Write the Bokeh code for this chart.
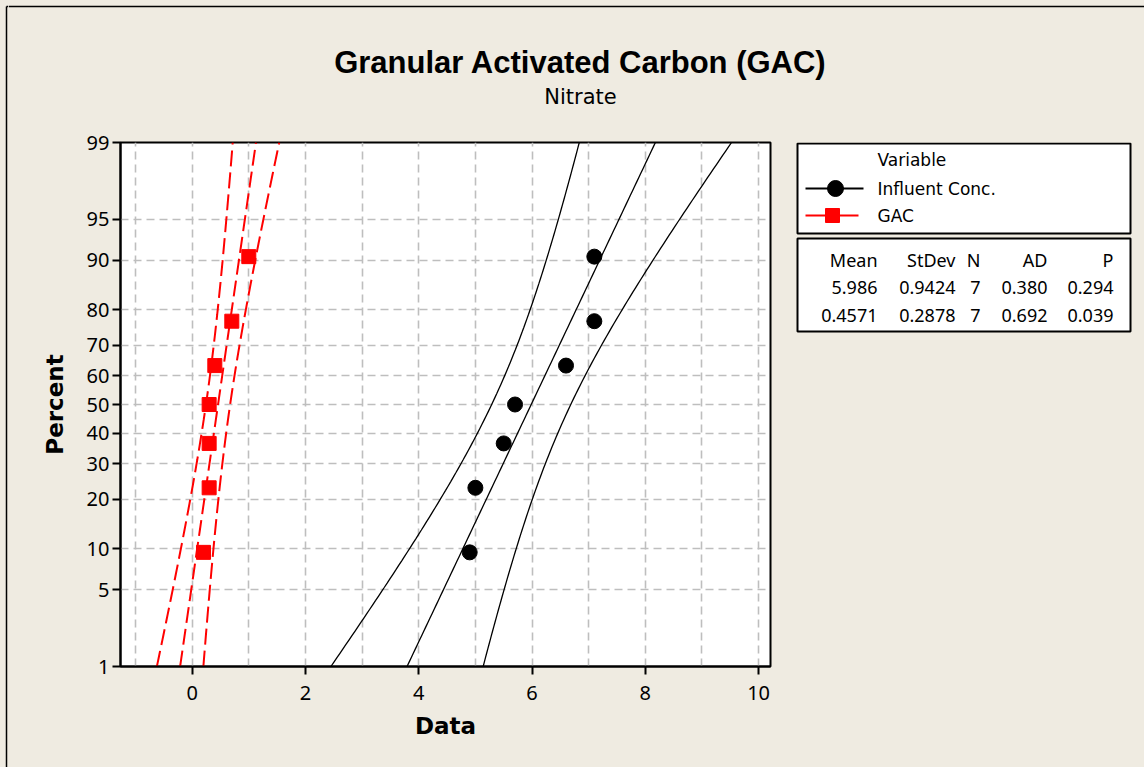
from statistics import NormalDist
import numpy as np
from bokeh.plotting import figure
from bokeh.layouts import row, column
from bokeh.models import FixedTicker, Range1d
from bokeh.embed import file_html
from bokeh.resources import INLINE
from bokeh.core.properties import value

# ---------------- data ----------------
influent = [4.9, 5.0, 5.5, 5.7, 6.6, 7.1, 7.1]
gac = [0.2, 0.3, 0.3, 0.3, 0.4, 0.7, 1.0]
series_names = ["Influent Conc.", "GAC"]
pct_ticks = [1, 5, 10, 20, 30, 40, 50, 60, 70, 80, 90, 95, 99]
x_ticks = [0, 2, 4, 6, 8, 10]
x_grid = [-1, 0, 1, 2, 3, 4, 5, 6, 7, 8, 9, 10]
stats_header = ["Mean", "StDev", "N", "AD", "P"]
stats_influent = ["5.986", "0.9424", "7", "0.380", "0.294"]
stats_gac = ["0.4571", "0.2878", "7", "0.692", "0.039"]
title_text = "Granular Activated Carbon (GAC)"
subtitle_text = "Nitrate"
legend_title = "Variable"

nd = NormalDist()


def z_of(p):
    return nd.inv_cdf(p / 100.0)


def plot_pos(vals):
    n = len(vals)
    return [z_of(100.0 * (i + 1 - 0.3) / (n + 0.4)) for i in range(n)]


def fit_and_bands(vals):
    v = np.array(vals, dtype=float)
    m = v.mean()
    s = v.std(ddof=1)
    n = len(v)
    zz = np.linspace(z_of(1), z_of(99), 120)
    xp = m + zz * s
    half = 1.96 * s * np.sqrt(1.0 / n + zz ** 2 / (2.0 * n))
    return zz, xp, xp - half, xp + half


FONT = "Noto Sans"
TFONT = "DejaVu Sans"
BG = "#EFEBE1"
STY = {"background-color": BG}


def blank_fig(w, h, xr, yr, **kw):
    f = figure(width=w, height=h, x_range=Range1d(*xr), y_range=Range1d(*yr),
               x_axis_location=None, y_axis_location=None,
               toolbar_location=None, output_backend="svg",
               background_fill_color=BG, border_fill_color=BG, outline_line_color=None,
               styles=STY, **kw)
    f.grid.visible = False
    return f


# ---------- left strip (outer border), page x 0..8 ----------
strip = blank_fig(8, 767, (0, 8), (767, 0), min_border=0)
strip.segment(x0=[6, 6], y0=[6, 6], x1=[6, 8], y1=[767, 6], line_color="black", line_width=1.5)

# ---------- title, page x 8..1144, y 0..130 ----------
tf = blank_fig(1136, 130, (8, 1144), (130, 0), min_border=0)
tf.segment(x0=[8], y0=[6], x1=[1144], y1=[6], line_color="black", line_width=1.5)
tf.text(x=[580], y=[62], text=[title_text], text_align="center", text_baseline="middle",
        text_font=value("Liberation Sans"), text_font_style="bold", text_font_size="31px",
        text_color="black")
tf.text(x=[580], y=[96], text=[subtitle_text], text_align="center", text_baseline="middle",
        text_font=value(TFONT), text_font_size="21px", text_color="black")

# ---------- main plot ----------
p = figure(frame_width=650, frame_height=524, output_backend="svg", toolbar_location=None,
           x_range=Range1d(-1.265, 10.21), y_range=Range1d(z_of(1), z_of(99)),
           min_border_left=112, min_border_right=15, min_border_top=12, min_border_bottom=101,
           background_fill_color="white", border_fill_color=BG, styles=STY)
p.outline_line_color = "black"
p.outline_line_width = 2

p.xaxis.ticker = FixedTicker(ticks=x_ticks)
zt = [z_of(t) for t in pct_ticks]
p.yaxis.ticker = FixedTicker(ticks=zt)
p.yaxis.major_label_overrides = {z: str(t) for z, t in zip(zt, pct_ticks)}
for ax in (p.xaxis[0], p.yaxis[0]):
    ax.axis_line_width = 2
    ax.axis_line_color = "black"
    ax.major_tick_line_width = 2
    ax.major_tick_out = 8
    ax.major_tick_in = 0
    ax.minor_tick_line_color = None
    ax.major_label_text_font = FONT
    ax.major_label_text_font_size = "20px"
    ax.major_label_text_color = "black"
    ax.axis_label_text_font = TFONT
    ax.axis_label_text_font_style = "bold"
    ax.axis_label_text_font_size = "23px"
    ax.axis_label_text_color = "black"
p.xaxis.axis_label = "Data"
p.yaxis.axis_label = "Percent"
p.xaxis.major_label_standoff = 11
p.xaxis.axis_label_standoff = 10
p.yaxis.major_label_standoff = 3
p.yaxis.axis_label_standoff = 16

p.xgrid.ticker = FixedTicker(ticks=x_grid)
for g in (p.xgrid[0], p.ygrid[0]):
    g.grid_line_color = "#BEBEBE"
    g.grid_line_width = 1.6
    g.grid_line_dash = "8 5"

zz, xp, lo, hi = fit_and_bands(influent)
for xx in (xp, lo, hi):
    p.line(xx, zz, line_color="black", line_width=1.3)
p.scatter(sorted(influent), plot_pos(influent), marker="circle", size=15,
          fill_color="black", line_color="black")

zz, xp, lo, hi = fit_and_bands(gac)
for xx in (xp, lo, hi):
    p.line(xx, zz, line_color="red", line_width=2, line_dash="16 6")
p.scatter(sorted(gac), plot_pos(gac), marker="square", size=14,
          fill_color="red", line_color="red")

# ---------- side panel: legend + stats (page coords; frame page x 785..1144, y 142..666) ----------
sf = blank_fig(359, 637, (785, 1144), (666, 142),
               min_border_left=0, min_border_right=0, min_border_top=12, min_border_bottom=101)
sf.quad(left=[797, 797], right=[1130, 1130], top=[143, 238], bottom=[233, 331],
        fill_color="white", line_color="black", line_width=2)
# legend samples
sf.segment(x0=[805, 805], y0=[188, 215], x1=[863, 858], y1=[188, 215],
           line_color=["black", "red"], line_width=2)
sf.scatter(x=[835], y=[188], marker="circle", size=16, fill_color="black", line_color="black")
sf.scatter(x=[832], y=[215], marker="square", size=14, fill_color="red", line_color="red")
sf.text(x=[877, 877, 877], y=[159, 188, 215], text=[legend_title] + series_names,
        text_align="left", text_baseline="middle",
        text_font=value(TFONT), text_font_size="17px", text_color="black")

right_edges = [877, 955, 980, 1047, 1113]
for row_y, vals in zip([259, 287, 315], [stats_header, stats_influent, stats_gac]):
    sf.text(x=right_edges, y=[row_y] * len(vals), text=vals, text_align="right",
            text_baseline="middle", text_font=value(FONT), text_font_size="18px",
            text_color="black")

layout = row(strip, column(tf, row(p, sf, styles=STY), styles=STY), styles=STY)
open("out.html", "w").write(file_html(layout, INLINE))
